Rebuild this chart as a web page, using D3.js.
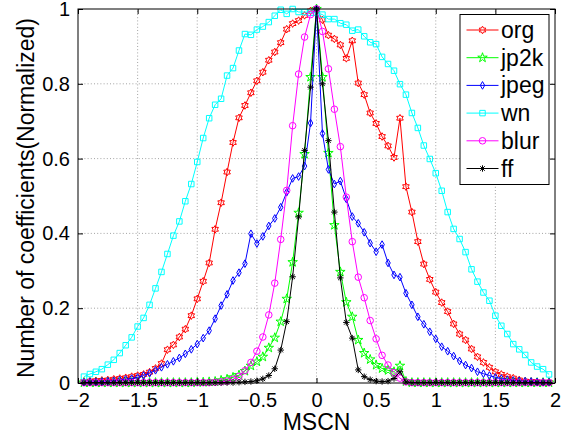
<!DOCTYPE html>
<html>
<head>
<meta charset="utf-8">
<script src="https://cdn.jsdelivr.net/npm/d3@7"></script>
<style>
  html, body { margin: 0; padding: 0; background: #fff; }
  svg { display: block; }
</style>
</head>
<body>
<script>
// ---------- data ----------
const mscnBins = [
  -1.95,-1.90,-1.85,-1.80,-1.75,-1.70,-1.65,-1.60,-1.55,-1.50,
  -1.45,-1.40,-1.35,-1.30,-1.25,-1.20,-1.15,-1.10,-1.05,-1.00,
  -0.95,-0.90,-0.85,-0.80,-0.75,-0.70,-0.65,-0.60,-0.55,-0.50,
  -0.45,-0.40,-0.35,-0.30,-0.25,-0.20,-0.15,-0.10,-0.05,0.00,
  0.05,0.10,0.15,0.20,0.25,0.30,0.35,0.40,0.45,0.50,
  0.55,0.60,0.65,0.70,0.75,0.80,0.85,0.90,0.95,1.00,
  1.05,1.10,1.15,1.20,1.25,1.30,1.35,1.40,1.45,1.50,
  1.55,1.60,1.65,1.70,1.75,1.80,1.85,1.90,1.95
];

const org = [
  0.004,0.005,0.006,0.007,0.008,0.010,0.012,0.014,0.017,0.020,
  0.023,0.029,0.039,0.052,0.089,0.102,0.123,0.144,0.180,0.225,
  0.272,0.321,0.411,0.482,0.564,0.643,0.709,0.742,0.776,0.808,
  0.831,0.863,0.885,0.910,0.946,0.961,0.969,0.983,0.995,1.000,
  0.971,0.930,0.920,0.904,0.868,0.915,0.802,0.771,0.722,0.694,
  0.659,0.634,0.603,0.708,0.525,0.457,0.378,0.318,0.277,0.243,
  0.215,0.191,0.158,0.131,0.115,0.091,0.070,0.055,0.042,0.030,
  0.023,0.017,0.013,0.008,0.005,0.004,0.003,0.002,0.002
];

const jp2k = [
  0.001,0.001,0.001,0.001,0.001,0.001,0.001,0.001,0.001,0.001,
  0.001,0.001,0.001,0.001,0.001,0.001,0.001,0.001,0.001,0.002,
  0.002,0.003,0.004,0.007,0.010,0.015,0.021,0.032,0.046,0.057,
  0.070,0.094,0.121,0.164,0.225,0.323,0.455,0.612,0.818,1.000,
  0.818,0.615,0.422,0.297,0.216,0.177,0.115,0.080,0.063,0.048,
  0.039,0.034,0.030,0.046,0.004,0.001,0.001,0.001,0.001,0.001,
  0.001,0.001,0.001,0.001,0.001,0.001,0.001,0.001,0.001,0.001,
  0.001,0.001,0.001,0.001,0.001,0.001,0.001,0.001,0.001
];

const jpeg = [
  0.002,0.003,0.003,0.004,0.005,0.006,0.008,0.010,0.012,0.015,
  0.020,0.026,0.034,0.042,0.050,0.058,0.067,0.078,0.090,0.104,
  0.120,0.140,0.172,0.207,0.237,0.274,0.295,0.319,0.399,0.373,
  0.392,0.420,0.440,0.470,0.510,0.547,0.552,0.580,0.695,1.000,
  0.667,0.571,0.532,0.540,0.492,0.445,0.427,0.403,0.374,0.351,
  0.370,0.321,0.289,0.283,0.240,0.209,0.177,0.157,0.137,0.118,
  0.097,0.085,0.072,0.059,0.048,0.040,0.030,0.025,0.020,0.015,
  0.012,0.009,0.007,0.006,0.005,0.004,0.003,0.002,0.002
];

const wn = [
  0.017,0.024,0.030,0.037,0.049,0.062,0.080,0.101,0.122,0.151,
  0.174,0.209,0.253,0.297,0.345,0.394,0.432,0.486,0.532,0.591,
  0.655,0.708,0.744,0.760,0.822,0.842,0.889,0.933,0.931,0.945,
  0.953,0.965,0.982,0.998,0.987,1.000,0.992,0.992,0.990,0.990,
  0.985,0.973,0.973,0.962,0.958,0.942,0.945,0.927,0.911,0.906,
  0.872,0.853,0.835,0.799,0.771,0.722,0.682,0.635,0.599,0.561,
  0.514,0.457,0.412,0.385,0.350,0.304,0.271,0.242,0.220,0.180,
  0.153,0.131,0.104,0.090,0.075,0.055,0.044,0.037,0.023
];

const blur = [
  0.001,0.001,0.001,0.001,0.001,0.001,0.001,0.001,0.001,0.001,
  0.001,0.001,0.001,0.001,0.001,0.001,0.001,0.001,0.001,0.001,
  0.001,0.001,0.002,0.003,0.005,0.010,0.018,0.033,0.055,0.085,
  0.123,0.182,0.267,0.384,0.515,0.688,0.826,0.925,0.985,1.000,
  0.940,0.840,0.732,0.632,0.497,0.378,0.283,0.228,0.167,0.118,
  0.074,0.048,0.028,0.013,0.003,0.001,0.001,0.001,0.001,0.001,
  0.001,0.001,0.001,0.001,0.001,0.001,0.001,0.001,0.001,0.001,
  0.001,0.001,0.001,0.001,0.001,0.001,0.001,0.001,0.001
];

const ff = [
  0.001,0.001,0.001,0.001,0.001,0.001,0.001,0.001,0.001,0.001,
  0.001,0.001,0.001,0.001,0.001,0.001,0.001,0.001,0.001,0.001,
  0.001,0.001,0.001,0.001,0.001,0.001,0.002,0.003,0.004,0.006,
  0.011,0.020,0.038,0.088,0.164,0.284,0.444,0.622,0.791,1.000,
  0.800,0.648,0.457,0.281,0.162,0.120,0.035,0.017,0.009,0.005,
  0.004,0.005,0.012,0.030,0.003,0.001,0.001,0.001,0.001,0.001,
  0.001,0.001,0.001,0.001,0.001,0.001,0.001,0.001,0.001,0.001,
  0.001,0.001,0.001,0.001,0.001,0.001,0.001,0.001,0.001
];

const seriesNames = ["org", "jp2k", "jpeg", "wn", "blur", "ff"];
const seriesValues = [org, jp2k, jpeg, wn, blur, ff];

const xTickValues = [-2, -1.5, -1, -0.5, 0, 0.5, 1, 1.5, 2];
const xTickLabels = ["\u22122", "\u22121.5", "\u22121", "\u22120.5", "0", "0.5", "1", "1.5", "2"];
const yTickValues = [0, 0.2, 0.4, 0.6, 0.8, 1];
const yTickLabels = ["0", "0.2", "0.4", "0.6", "0.8", "1"];

const xLabel = "MSCN";
const yLabel = "Number of coefficients(Normalized)";

// ---------- styles ----------
const colors = { org: "#ff0000", jp2k: "#00ff00", jpeg: "#0000ff", wn: "#00ffff", blur: "#ff00ff", ff: "#000000" };
const FONT = "'Liberation Sans', Arial, Helvetica, sans-serif";

// marker shapes
function hexagramPath(r) {
  const pts = [];
  for (let k = 0; k < 12; k++) {
    const a = -Math.PI / 2 + k * Math.PI / 6;
    const rr = (k % 2 === 0) ? r : r / Math.sqrt(3);
    pts.push([rr * Math.cos(a), rr * Math.sin(a)]);
  }
  return "M" + pts.map(p => p[0].toFixed(2) + "," + p[1].toFixed(2)).join("L") + "Z";
}
function asteriskPath(r) {
  const a = r * 0.7071;
  return `M${-r},0L${r},0M0,${-r}L0,${r}M${-a},${-a}L${a},${a}M${-a},${a}L${a},${-a}`;
}
const markerPath = {
  org: hexagramPath(3.8),
  jp2k: d3.symbol().type(d3.symbolStar).size(28)(),
  jpeg: d3.symbol().type(d3.symbolDiamond).size(17)(),
  wn: d3.symbol().type(d3.symbolSquare).size(30)(),
  blur: d3.symbol().type(d3.symbolCircle).size(34)(),
  ff: asteriskPath(3.2)
};

// ---------- chart ----------
const W = 574, H = 438;
const svg = d3.select("body").append("svg").attr("width", W).attr("height", H);
svg.append("rect").attr("width", W).attr("height", H).attr("fill", "#fff");

const x = d3.scaleLinear().domain([-2, 2]).range([78, 555]);
const y = d3.scaleLinear().domain([0, 1]).range([383, 9]);

// grid
const grid = svg.append("g").attr("stroke", "#8c8c8c").attr("stroke-width", 0.8)
  .attr("stroke-dasharray", "1,2.2");
grid.selectAll("line.gx").data(xTickValues.slice(1, -1)).enter().append("line")
  .attr("x1", d => x(d)).attr("x2", d => x(d)).attr("y1", y(0)).attr("y2", y(1));
grid.selectAll("line.gy").data(yTickValues.slice(1, -1)).enter().append("line")
  .attr("x1", x(-2)).attr("x2", x(2)).attr("y1", d => y(d)).attr("y2", d => y(d));

// series
const line = d3.line().x((d, i) => x(mscnBins[i])).y(d => y(d));
seriesNames.forEach((name, si) => {
  const vals = seriesValues[si];
  const g = svg.append("g");
  g.append("path").attr("d", line(vals)).attr("fill", "none")
    .attr("stroke", colors[name]).attr("stroke-width", 1);
  g.selectAll("path.m").data(vals).enter().append("path")
    .attr("class", "m")
    .attr("d", markerPath[name])
    .attr("transform", (d, i) => `translate(${x(mscnBins[i])},${y(d)})`)
    .attr("fill", "none").attr("stroke", colors[name]).attr("stroke-width", 1);
});

// axes
function styleAxis(g) {
  g.select(".domain").remove();
  g.selectAll(".tick line").attr("stroke", "#000").attr("stroke-width", 1);
  g.selectAll(".tick text").attr("fill", "#000").attr("font-family", FONT).attr("font-size", 20);
}
svg.append("g").attr("transform", `translate(0,${y(0)})`)
  .call(d3.axisBottom(x).tickValues(xTickValues).tickFormat((d, i) => xTickLabels[i])
    .tickSizeInner(-5).tickSizeOuter(0).tickPadding(10))
  .call(styleAxis);
svg.append("g").attr("transform", `translate(0,${y(1)})`)
  .call(d3.axisTop(x).tickValues(xTickValues).tickFormat("").tickSizeInner(-5).tickSizeOuter(0))
  .call(styleAxis);
svg.append("g").attr("transform", `translate(${x(-2)},0)`)
  .call(d3.axisLeft(y).tickValues(yTickValues).tickFormat((d, i) => yTickLabels[i])
    .tickSizeInner(-5).tickSizeOuter(0).tickPadding(8))
  .call(styleAxis);
svg.append("g").attr("transform", `translate(${x(2)},0)`)
  .call(d3.axisRight(y).tickValues(yTickValues).tickFormat("").tickSizeInner(-5).tickSizeOuter(0))
  .call(styleAxis);

// frame
svg.append("rect").attr("x", x(-2)).attr("y", y(1))
  .attr("width", x(2) - x(-2)).attr("height", y(0) - y(1))
  .attr("fill", "none").attr("stroke", "#000").attr("stroke-width", 1);

// axis labels
svg.append("text").attr("x", (x(-2) + x(2)) / 2).attr("y", 430)
  .attr("text-anchor", "middle").attr("font-family", FONT).attr("font-size", 23)
  .attr("fill", "#000").text(xLabel);
svg.append("text").attr("transform", `translate(33.5,${(y(0) + y(1)) / 2 + 2}) rotate(-90)`)
  .attr("text-anchor", "middle").attr("font-family", FONT).attr("font-size", 23)
  .attr("fill", "#000").text(yLabel);

// legend
const legend = svg.append("g");
legend.append("rect").attr("x", 460).attr("y", 14.5).attr("width", 89).attr("height", 170)
  .attr("fill", "#fff").attr("stroke", "#000").attr("stroke-width", 1);
const legendY0 = 30, legendDy = 27.7;
seriesNames.forEach((name, i) => {
  const ly = legendY0 + i * legendDy;
  legend.append("line").attr("x1", 466.5).attr("x2", 498.5).attr("y1", ly).attr("y2", ly)
    .attr("stroke", colors[name]).attr("stroke-width", 1);
  legend.append("path").attr("d", markerPath[name]).attr("transform", `translate(482.5,${ly})`)
    .attr("fill", "none").attr("stroke", colors[name]).attr("stroke-width", 1);
  legend.append("text").attr("x", 501).attr("y", ly).attr("dy", "0.35em")
    .attr("font-family", FONT).attr("font-size", 23).attr("fill", "#000").text(name);
});
</script>
</body>
</html>
